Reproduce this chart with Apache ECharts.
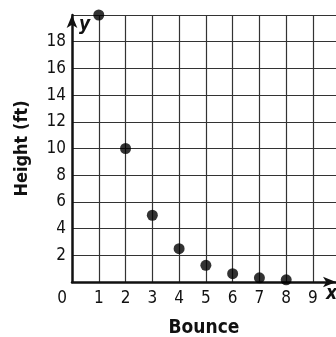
<!DOCTYPE html>
<html>
<head>
<meta charset="utf-8">
<script src="https://cdn.jsdelivr.net/npm/echarts@6/dist/echarts.min.js"></script>
<style>
  html, body { margin: 0; padding: 0; background: #fff; }
  #chart { width: 336px; height: 337px; }
</style>
</head>
<body>
<div id="chart"></div>
<script>
  // data
  const bounces = [1, 2, 3, 4, 5, 6, 7, 8]
  const heights = [20, 10, 5, 2.5, 1.25, 0.625, 0.3125, 0.16]
  const xTicks = [1, 2, 3, 4, 5, 6, 7, 8, 9]
  const yTicks = [2, 4, 6, 8, 10, 12, 14, 16, 18]

  const font = "'DejaVu Sans Condensed', 'Liberation Sans Narrow', sans-serif"
  const chart = echarts.init(document.getElementById('chart'))

  chart.setOption({
    animation: false,
    grid: { left: 72, right: 0, top: 15, bottom: 55, containLabel: false, outerBoundsMode: 'none' },
    xAxis: {
      type: 'value',
      min: 0,
      max: 9.86,
      interval: 1,
      name: 'Bounce',
      nameLocation: 'middle',
      nameGap: 37,
      nameTextStyle: { fontFamily: font, fontWeight: 'bold', fontSize: 19, color: '#111' },
      axisLine: { onZero: false, symbol: ['none', 'arrow'], symbolSize: [8, 13], lineStyle: { color: '#111', width: 2.5 } },
      axisTick: { show: false },
      axisLabel: {
        margin: 8,
        fontFamily: font,
        fontSize: 17,
        color: '#111',
        formatter: v => v === 0 ? '{z|0}' : (xTicks.includes(v) ? String(v) : ''),
        rich: { z: { fontFamily: font, fontSize: 17, color: '#111', padding: [0, 20, 0, 0] } }
      },
      splitLine: { show: true, showMinLine: false, showMaxLine: false, lineStyle: { color: '#333', width: 1.2 } }
    },
    yAxis: {
      type: 'value',
      min: 0,
      max: 20,
      interval: 2,
      name: 'Height (ft)',
      nameLocation: 'middle',
      nameGap: 41,
      nameTextStyle: { fontFamily: font, fontWeight: 'bold', fontSize: 18, color: '#111' },
      axisLine: { symbol: ['none', 'arrow'], symbolSize: [8, 13], lineStyle: { color: '#111', width: 2.5 } },
      axisTick: { show: false },
      axisLabel: {
        margin: 6,
        fontFamily: font,
        fontSize: 17,
        color: '#111',
        formatter: v => yTicks.includes(v) ? String(v) : ''
      },
      splitLine: { show: true, showMinLine: false, lineStyle: { color: '#333', width: 1.2 } }
    },
    graphic: [
      { type: 'text', left: 79, top: 16, style: { text: 'y', fontFamily: font, fontStyle: 'italic', fontWeight: 'bold', fontSize: 19, fill: '#111' } },
      { type: 'text', left: 326, top: 285, style: { text: 'x', fontFamily: font, fontStyle: 'italic', fontWeight: 'bold', fontSize: 19, fill: '#111' } }
    ],
    series: [{
      type: 'scatter',
      data: bounces.map((b, i) => [b, heights[i]]),
      symbolSize: 11,
      itemStyle: { color: '#000' }
    }]
  })
</script>
</body>
</html>
